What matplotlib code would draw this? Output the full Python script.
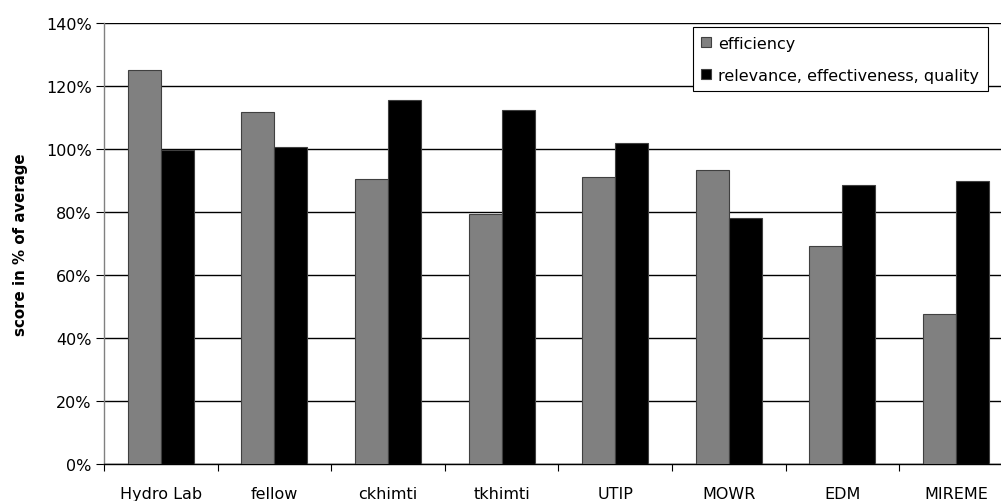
import matplotlib
matplotlib.use("Agg")
import matplotlib.pyplot as plt
import numpy as np
from matplotlib.ticker import FixedLocator, PercentFormatter

# score per organisation, % of average
categories = ["Hydro Lab", "fellow", "ckhimti", "tkhimti", "UTIP", "MOWR", "EDM", "MIREME"]
efficiency = [125.2, 111.7, 90.5, 79.4, 91.0, 93.3, 69.3, 47.5]
relevance = [99.8, 100.6, 115.7, 112.3, 102.0, 78.1, 88.6, 90.0]
series_labels = ["efficiency", "relevance, effectiveness, quality"]

plt.rcParams["font.family"] = ["DejaVu Sans"]

W, H = 1001, 502
fig = plt.figure(figsize=(W / 100, H / 100), dpi=100)
# plot area runs a bit past the right edge of the figure
ax = fig.add_axes([104 / W, 37 / H, 908.7 / W, 441 / H])

x = np.arange(len(categories))
bw = 0.291
ax.bar(x - bw / 2, efficiency, bw, color="#808080", edgecolor="#404040",
       linewidth=0.8, label=series_labels[0], zorder=3)
ax.bar(x + bw / 2, relevance, bw, color="black", edgecolor="#404040",
       linewidth=0.8, label=series_labels[1], zorder=3)

ax.set_xlim(-0.5, len(categories) - 0.5)
ax.set_ylim(0, 140)
ax.set_yticks(np.arange(0, 141, 20))
ax.yaxis.set_major_formatter(PercentFormatter(decimals=0))
ax.yaxis.grid(True, color="black", linewidth=1.0, zorder=1)
ax.set_axisbelow(True)

fs = 11.5
ax.set_xticks(x)
ax.set_xticklabels(categories)
ax.tick_params(axis="x", which="major", length=0, pad=16, labelsize=fs)
ax.xaxis.set_minor_locator(FixedLocator(np.arange(-0.5, len(categories), 1.0)))
ax.tick_params(axis="x", which="minor", length=5, color="black", width=0.8)
ax.tick_params(axis="y", length=6, color="black", width=0.8, labelsize=fs, pad=3)

for s in ["top", "right"]:
    ax.spines[s].set_visible(False)
ax.spines["left"].set_color("#808080")
ax.spines["left"].set_linewidth(1.0)
ax.spines["bottom"].set_color("black")
ax.spines["bottom"].set_linewidth(1.0)

ax.set_ylabel("score in % of average", fontsize=10.8, fontweight="bold", labelpad=13)

leg = ax.legend(loc="upper right", bbox_to_anchor=(988 / W, 1 - 28 / H),
                bbox_transform=fig.transFigure, fancybox=False, framealpha=1,
                edgecolor="black", fontsize=fs, handlelength=0.6,
                handleheight=0.6, handletextpad=0.45, labelspacing=1.05,
                borderpad=0.55, borderaxespad=0)
leg.get_frame().set_linewidth(0.8)
for h in leg.legend_handles:
    h.set_edgecolor("#404040")

fig.savefig("out.png", dpi=100)
